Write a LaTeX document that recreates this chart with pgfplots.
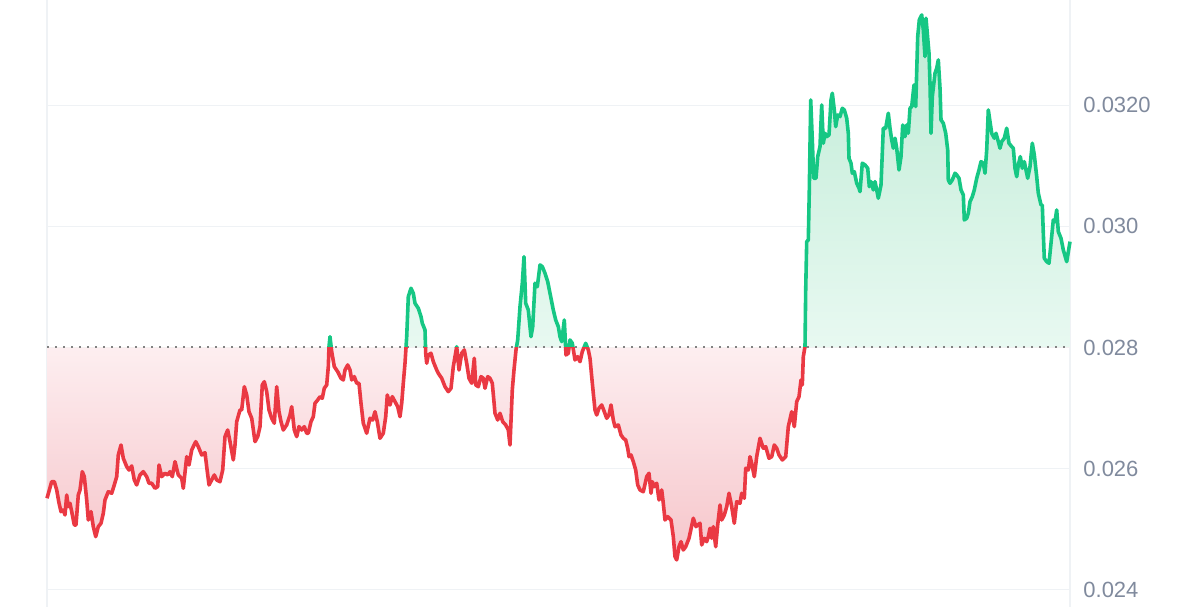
\documentclass[border=0pt]{standalone}
\usepackage{fontspec}
\setmainfont{Liberation Sans}
\usepackage{pgfplots}
\pgfplotsset{compat=1.18}
\usepackage{pgfplotstable}

\definecolor{upgreen}{HTML}{16C784}
\definecolor{downred}{HTML}{EA3943}
\definecolor{gridgrey}{HTML}{EFF2F5}
\definecolor{ticktext}{HTML}{808A9D}
\definecolor{gtop}{HTML}{BEEBD5}
\definecolor{gbase}{HTML}{E8F9F1}
\definecolor{rbase}{HTML}{FDEEF0}
\definecolor{rlow}{HTML}{F6C5CA}

% baseline 0.028 sits at 39% of the area's height (25bp + 0.39*50bp)
\pgfdeclareverticalshading{greenfade}{100bp}{color(0bp)=(gbase); color(44.5bp)=(gbase); color(75bp)=(gtop); color(100bp)=(gtop)}
\pgfdeclareverticalshading{redfade}{100bp}{color(0bp)=(rlow); color(25bp)=(rlow); color(44.5bp)=(rbase); color(100bp)=(rbase)}

\pgfplotstableread{
t p
47 0.025509
51.7 0.025783
54.3 0.025783
56.7 0.025646
59 0.025431
61 0.025288
63.3 0.025316
65 0.025233
66.7 0.025563
68.3 0.025370
70 0.025426
71.7 0.025288
74.3 0.025068
76 0.025068
78.3 0.025563
80 0.025646
82.3 0.025948
84.3 0.025866
86.7 0.025481
88.3 0.025150
91 0.025288
93.3 0.025040
95.7 0.024875
98.3 0.025040
101 0.025096
103.3 0.025261
105 0.025481
108.3 0.025618
111.7 0.025592
114.3 0.025729
116.7 0.025866
118.3 0.026224
121 0.026389
123.3 0.026170
126.7 0.026031
129 0.025976
131.7 0.026043
134.3 0.025811
136.7 0.025729
140 0.025894
143.3 0.025948
146.7 0.025866
149 0.025757
151.7 0.025757
155 0.025674
157.7 0.025701
159 0.026059
161.7 0.025866
165 0.025922
167.7 0.025894
170 0.025948
172.3 0.025866
175 0.026114
178.3 0.025894
181.7 0.025839
183.3 0.025674
186.7 0.026196
189 0.026059
191.7 0.026307
195.7 0.026444
198.3 0.026361
201.7 0.026224
205 0.026262
206.7 0.026031
209 0.025729
211.7 0.025811
214.3 0.025894
216.7 0.025811
220 0.025783
222.7 0.025976
225 0.026527
227.7 0.026637
230 0.026444
233.3 0.026142
235 0.026389
236.7 0.026774
240 0.026968
241.7 0.026968
244.3 0.027352
246.7 0.027215
249 0.026939
251.7 0.026830
255 0.026444
257.7 0.026527
260 0.026692
262.3 0.027381
264.3 0.027435
266.7 0.027270
269 0.026968
271.7 0.026830
274.3 0.026748
276.7 0.027352
279 0.026939
281 0.026774
283.3 0.026637
286.7 0.026720
290 0.026885
291.7 0.027022
294.3 0.026637
296.7 0.026527
299 0.026692
301.7 0.026637
304.3 0.026692
306.7 0.026583
308.3 0.026583
311 0.026774
313.3 0.026857
315 0.027078
317.7 0.027133
320 0.027187
322.3 0.027161
324.3 0.027326
326.7 0.027381
328.3 0.027683
329 0.028013
330 0.028178
331.7 0.027931
334.3 0.027683
337.7 0.027600
341 0.027491
343.3 0.027463
345 0.027628
347.7 0.027711
350 0.027628
351.7 0.027463
354.3 0.027518
356.7 0.027409
359 0.027409
361 0.027078
363.3 0.026748
366.7 0.026583
370 0.026830
372.7 0.026802
375 0.026939
377.3 0.026774
380 0.026500
383.3 0.026583
385.7 0.026857
387.3 0.027215
390 0.027050
392.3 0.027187
395 0.027105
397.7 0.027022
400 0.026857
401.7 0.027078
403.3 0.027409
405 0.027739
406.7 0.028178
408.3 0.028839
411 0.028978
413.3 0.028895
415 0.028730
418.3 0.028648
421 0.028509
422.3 0.028400
425 0.028289
425.7 0.027904
426.7 0.027739
428.3 0.027876
431 0.027904
433.3 0.027765
436.7 0.027628
438.3 0.027573
441.7 0.027491
445 0.027352
448.3 0.027270
451 0.027326
453.3 0.027683
456.7 0.028013
459 0.027628
461.7 0.027904
464.3 0.027959
466.7 0.027739
469 0.027491
471.7 0.027409
474.3 0.027822
475.7 0.027381
478.3 0.027352
481 0.027518
483.3 0.027491
485 0.027326
487.7 0.027518
490 0.027491
492.3 0.027409
495 0.026913
497.7 0.026802
500 0.026913
502.7 0.026774
505.7 0.026720
508.3 0.026637
510 0.026389
512.3 0.027298
514 0.027628
516 0.027959
517.7 0.028124
520 0.028674
522.3 0.029061
524 0.029500
525.7 0.028730
528.3 0.028619
531 0.028178
532.7 0.028344
535 0.029061
537.3 0.029004
540 0.029363
542.3 0.029335
545 0.029226
547.7 0.029087
550 0.028895
553.3 0.028619
555.7 0.028454
558.3 0.028344
560 0.028178
561.7 0.028096
564.3 0.028454
566 0.027876
568.3 0.027904
570 0.028124
572.3 0.028069
575 0.027794
577.7 0.027848
580 0.027765
582.3 0.027931
585.7 0.028069
588.3 0.027959
590 0.027822
591.7 0.027518
593.3 0.027243
595 0.026968
596.7 0.026885
599 0.026996
601.7 0.027050
604.3 0.026939
606.7 0.026830
609 0.026885
611 0.027050
613.3 0.026802
615 0.026692
618.3 0.026720
621 0.026555
623.3 0.026500
625.7 0.026472
627.7 0.026335
629 0.026196
631 0.026224
633.3 0.026114
635.7 0.025976
637.7 0.025729
640 0.025646
643.3 0.025618
646.7 0.025866
649 0.025922
651 0.025592
652.3 0.025783
654.3 0.025701
656.7 0.025757
659 0.025481
661.7 0.025646
663.3 0.025426
665 0.025150
667.7 0.025205
671 0.025150
673.3 0.024875
675 0.024544
676.7 0.024490
679 0.024709
681 0.024792
683.3 0.024655
685.7 0.024709
689 0.024848
693.3 0.025179
696 0.025040
697.7 0.025068
700 0.025096
701.7 0.024738
704.3 0.024848
706.7 0.024792
708.3 0.024875
710 0.025013
711.7 0.024848
713.3 0.025040
715.7 0.024709
717.7 0.025068
720 0.025398
721.7 0.025150
724.3 0.025233
726.7 0.025370
729 0.025592
731.7 0.025370
734.3 0.025096
736.7 0.025453
740 0.025426
741.7 0.025592
744.3 0.025509
745.7 0.026005
748.3 0.025976
750 0.026196
751.7 0.026087
754.3 0.025866
756.7 0.026196
760 0.026500
763.3 0.026335
765.7 0.026361
769 0.026170
771.7 0.026196
774.3 0.026389
776.7 0.026335
779 0.026224
782.3 0.026142
785.7 0.026196
788.3 0.026692
791.7 0.026939
794.3 0.026692
796.7 0.027105
799 0.027187
801 0.027463
802.3 0.027381
803.3 0.027848
805 0.028013
805.7 0.028950
806.7 0.029748
808.3 0.029776
809.3 0.030602
810.7 0.032088
812.3 0.031428
813.7 0.030795
816 0.030795
817.7 0.031152
820 0.031317
821.7 0.032006
823.3 0.031373
825 0.031538
826.7 0.031482
829 0.031510
831 0.032088
832.3 0.032199
834.3 0.031923
835.7 0.031647
837.7 0.031841
840 0.031813
842.3 0.031951
844.3 0.031923
846.7 0.031786
848.3 0.031538
849 0.031125
851 0.031043
852.3 0.030878
854.3 0.030904
856.7 0.030712
859 0.030630
860 0.030574
862.3 0.031043
865 0.031015
867.7 0.030960
869.3 0.030656
871 0.030739
873.3 0.030602
875 0.030739
876.7 0.030602
878.3 0.030465
881 0.030684
883.3 0.031621
885.7 0.031621
888.3 0.031869
890 0.031621
891.7 0.031428
893.3 0.031291
895 0.031456
896.7 0.031291
899 0.030932
901 0.031152
902.7 0.031675
905 0.031482
906.7 0.031675
908.3 0.031538
910 0.031951
911.7 0.031978
914 0.032336
915.7 0.031978
917.7 0.033134
919.3 0.033410
921.7 0.033493
923.3 0.033245
925 0.032804
926 0.033438
927.7 0.033108
929 0.032860
930 0.032364
931 0.031538
932.3 0.032143
935 0.032529
936.7 0.032612
938.3 0.032749
940 0.032282
941 0.031758
943.3 0.031704
945.7 0.031538
947.7 0.031262
948.3 0.030767
950 0.030712
952.3 0.030767
955 0.030878
956.7 0.030850
959 0.030795
961 0.030602
963.3 0.030519
964.3 0.030106
966.7 0.030134
968.3 0.030217
970 0.030408
972.3 0.030491
974.3 0.030602
976.7 0.030795
979 0.030932
981 0.031069
983.3 0.031043
985 0.030878
986.7 0.031262
988.3 0.031923
990 0.031730
991.7 0.031538
994.3 0.031456
996 0.031538
998.3 0.031400
1000 0.031291
1001.7 0.031400
1004.3 0.031456
1006.7 0.031621
1009 0.031373
1011.7 0.031317
1013.3 0.031291
1015 0.030960
1016.7 0.030821
1018.3 0.031015
1020.3 0.031152
1022.3 0.030960
1024.3 0.031069
1026 0.030932
1027.7 0.030795
1030 0.030987
1032.3 0.031373
1034.3 0.031180
1036.7 0.030821
1038.3 0.030547
1041 0.030354
1042.3 0.030354
1043.3 0.029886
1044.3 0.029473
1046.7 0.029417
1049 0.029391
1051 0.029721
1053.3 0.030106
1055 0.030078
1056.7 0.030271
1058.3 0.029913
1061 0.029804
1063.3 0.029611
1066.7 0.029417
1070 0.029748
}\price

\begin{document}
\begin{tikzpicture}
\useasboundingbox (0,0) rectangle (600pt,303.5pt);
\begin{axis}[
  at={(23.5pt,0pt)}, anchor=south west,
  scale only axis, width=511.5pt, height=303.5pt,
  xmin=47, xmax=1070, ymin=0.023713, ymax=0.033739,
  axis line style={draw=none},
  xtick=\empty,
  ytick={0.024,0.026,0.028,0.030,0.032},
  yticklabels={0.024,0.026,0.028,0.030,0.0320},
  scaled y ticks=false,
  yticklabel pos=right,
  major tick length=0pt,
  ymajorgrids,
  grid style={gridgrey, line width=0.75pt},
  yticklabel style={anchor=west, inner sep=0pt, xshift=6.5pt, text=ticktext, font=\fontsize{11}{13}\selectfont},
  no markers,
  clip=false,
]
\draw[gridgrey, line width=0.75pt] (rel axis cs:0,0) -- (rel axis cs:0,1);
\draw[gridgrey, line width=0.75pt] (rel axis cs:1,0) -- (rel axis cs:1,1);

% areas between the price and the 0.028 reference level
\begin{scope}
\clip (axis cs:40,0.028) rectangle (axis cs:1080,0.0345);
\addplot[draw=none, shade, shading=greenfade] table[x=t, y=p] {\price}
  -- (axis cs:1070,0.028) -- (axis cs:47,0.028) -- cycle;
\end{scope}
\begin{scope}
\clip (axis cs:40,0.0230) rectangle (axis cs:1080,0.028);
\addplot[draw=none, shade, shading=redfade] table[x=t, y=p] {\price}
  -- (axis cs:1070,0.028) -- (axis cs:47,0.028) -- cycle;
\end{scope}

% reference level
\addplot[draw={rgb,255:red,130;green,130;blue,130}, line width=1pt, dash pattern=on 1pt off 3pt]
  coordinates {(47,0.028) (1070,0.028)};

% price line, green above and red below the reference
\begin{scope}
\clip (axis cs:40,0.028) rectangle (axis cs:1080,0.0345);
\addplot[upgreen, line width=1.8pt, line join=round] table[x=t, y=p] {\price};
\end{scope}
\begin{scope}
\clip (axis cs:40,0.0230) rectangle (axis cs:1080,0.028);
\addplot[downred, line width=1.8pt, line join=round] table[x=t, y=p] {\price};
\end{scope}
\end{axis}
\end{tikzpicture}
\end{document}
